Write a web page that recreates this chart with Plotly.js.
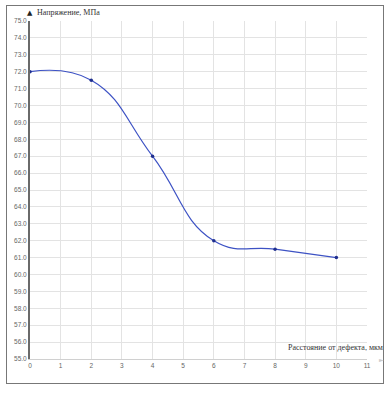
<!DOCTYPE html>
<html><head><meta charset="utf-8">
<script src="https://cdn.plot.ly/plotly-3.0.1.min.js"></script>
<style>
html,body{margin:0;padding:0;background:#fff;}
#frame{position:absolute;left:6px;top:5px;width:378px;height:379px;border:1.5px solid #777;box-sizing:border-box;}
#chart{position:absolute;left:0;top:0;width:391px;height:393px;}
</style></head>
<body>
<div id="frame"></div>
<div id="chart"></div>
<script>
const distance = [0, 2, 4, 6, 8, 10];
const stress = [72.0, 71.5, 67.0, 62.0, 61.5, 61.0];
const yTitle = "Напряжение, МПа";
const xTitle = "Расстояние от дефекта, мкм";

const trace = {
  x: distance, y: stress, type: 'scatter', mode: 'lines+markers',
  line: {shape: 'spline', smoothing: 1.3, color: '#3d52c4', width: 1.2},
  marker: {size: 3.5, color: '#1f2f8f'},
  hoverinfo: 'skip'
};
const layout = {
  width: 391, height: 393,
  margin: {l: 30, r: 24, t: 21, b: 34},
  paper_bgcolor: 'rgba(0,0,0,0)', plot_bgcolor: 'rgba(0,0,0,0)',
  showlegend: false,
  xaxis: {range: [0, 11], dtick: 1, tick0: 0, showgrid: true, gridcolor: '#e3e3e3', gridwidth: 1,
    zeroline: false, showline: true, linecolor: '#d0d0d0', linewidth: 1, ticks: '',
    tickfont: {family: 'Liberation Sans, Arial', size: 6.5, color: '#666'}, fixedrange: true},
  yaxis: {range: [55, 75], dtick: 1, tick0: 55, tickformat: '.1f', showgrid: true, gridcolor: '#e3e3e3', gridwidth: 1,
    zeroline: false, showline: true, linecolor: '#6a6a6a', linewidth: 2, ticks: '',
    tickfont: {family: 'Liberation Sans, Arial', size: 6.5, color: '#666'}, fixedrange: true},
  annotations: [
    {xref: 'paper', yref: 'paper', x: 0, y: 1, xanchor: 'left', yanchor: 'bottom', xshift: 5, yshift: 2,
     text: yTitle, showarrow: false, font: {family: 'Liberation Serif, Times New Roman', size: 8, color: '#333'}},
    {xref: 'paper', yref: 'paper', x: 0, y: 1, xanchor: 'center', yanchor: 'bottom', xshift: 0, yshift: 2,
     text: '▲', showarrow: false, font: {family: 'DejaVu Sans', size: 7, color: '#222'}},
    {xref: 'paper', yref: 'paper', x: 1, y: 0, xanchor: 'right', yanchor: 'bottom', xshift: 18, yshift: 5,
     text: xTitle, showarrow: false, font: {family: 'Liberation Serif, Times New Roman', size: 8, color: '#333'}},
    {xref: 'paper', yref: 'paper', x: 1, y: 0, xanchor: 'left', yanchor: 'middle', xshift: 10, yshift: 0,
     text: '►', showarrow: false, font: {family: 'DejaVu Sans', size: 6, color: '#ccc'}}
  ]
};
Plotly.newPlot('chart', [trace], layout, {displayModeBar: false, staticPlot: true});
</script>
</body></html>
